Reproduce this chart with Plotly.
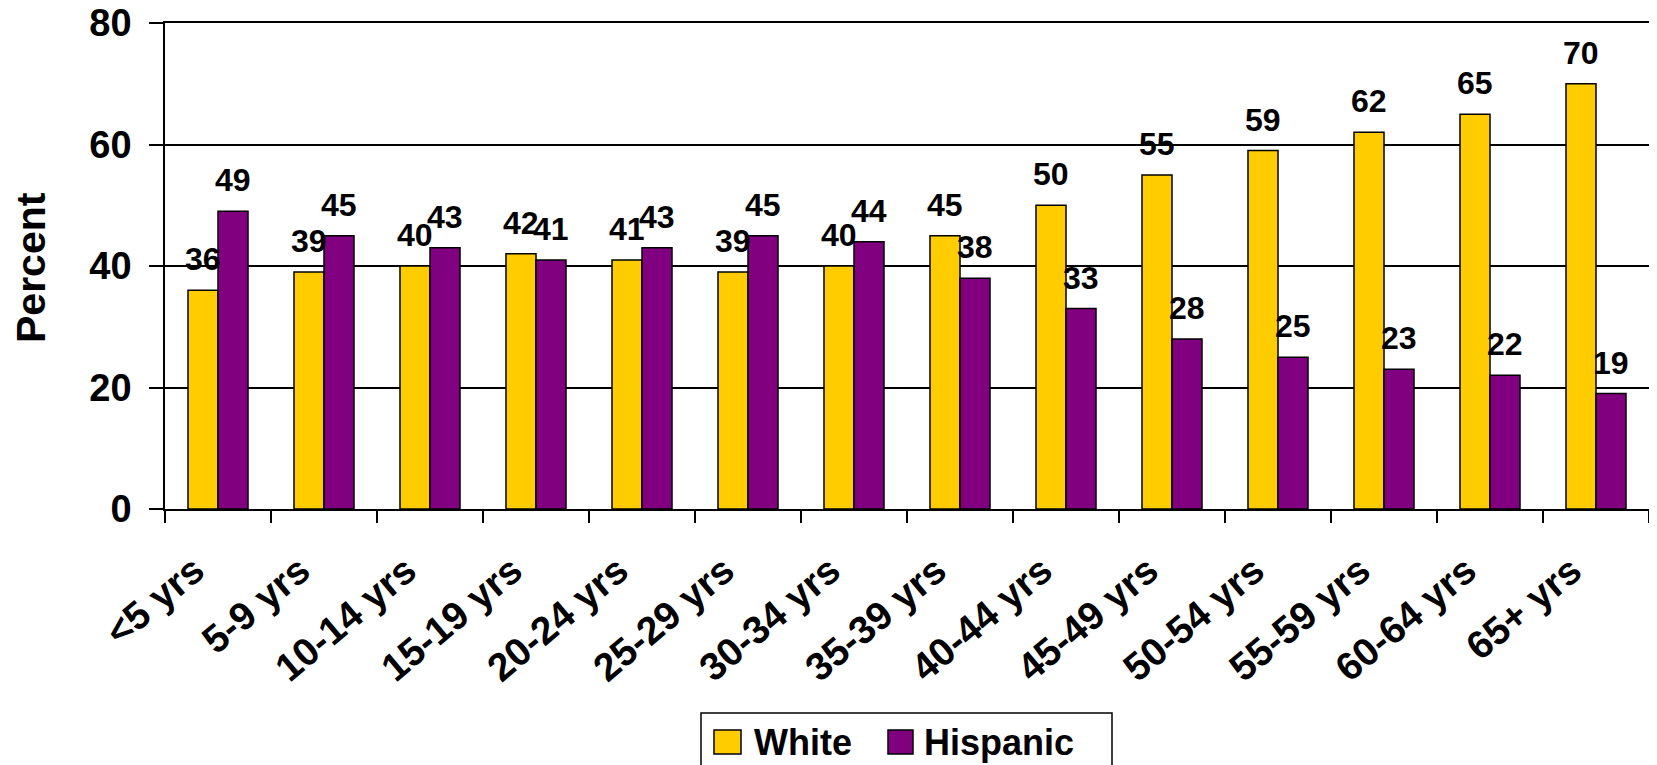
import plotly.graph_objects as go

categories = ["<5 yrs", "5-9 yrs", "10-14 yrs", "15-19 yrs", "20-24 yrs", "25-29 yrs",
              "30-34 yrs", "35-39 yrs", "40-44 yrs", "45-49 yrs", "50-54 yrs",
              "55-59 yrs", "60-64 yrs", "65+ yrs"]
white = [36, 39, 40, 42, 41, 39, 40, 45, 50, 55, 59, 62, 65, 70]
hispanic = [49, 45, 43, 41, 43, 45, 44, 38, 33, 28, 25, 23, 22, 19]
series_names = ["White", "Hispanic"]
y_ticks = [0, 20, 40, 60, 80]

YELLOW = "#FFCC00"
PURPLE = "#800080"
FONT = "Liberation Sans, Arial, sans-serif"

W, H = 1657, 765
OFF = 8  # page body margin
# plot area in page pixels: x 165..1649, y 23..509
L, T = 165 - OFF, 23 - OFF
R = W - (1649 - OFF)
B = H - (509 - OFF)
PW, PH = 1649 - 165, 509 - 23


def px(x):  # page pixel x -> paper
    return (x - 165) / PW


def py(y):  # page pixel y -> paper
    return (509 - y) / PH


fig = go.Figure()
for name, vals, col in [(series_names[0], white, YELLOW), (series_names[1], hispanic, PURPLE)]:
    fig.add_trace(go.Bar(
        x=categories, y=vals, name=name,
        marker=dict(color=col, line=dict(color="black", width=1.5)),
        showlegend=False,
    ))

annotations = []
for vals, shift in [(white, -15), (hispanic, 15)]:
    for c, v in zip(categories, vals):
        annotations.append(dict(
            x=c, y=v, xref="x", yref="y", text=str(v), showarrow=False,
            xshift=shift, yshift=11, yanchor="bottom", xanchor="center",
            font=dict(family=FONT, size=32, color="black", weight="bold"),
        ))

# category labels (rotated)
for c in categories:
    annotations.append(dict(
        x=c, y=0, xref="x", yref="y", text=c, showarrow=False, textangle=-40,
        xanchor="right", yanchor="top", xshift=-3, yshift=-36,
        font=dict(family=FONT, size=39, color="black", weight="bold"),
    ))

# y-axis title
annotations.append(dict(
    x=px(31), y=py(268), xref="paper", yref="paper", text="Percent", textangle=-90,
    showarrow=False, xanchor="center", yanchor="middle",
    font=dict(family=FONT, size=41, color="black", weight="bold"),
))

# manual legend
shapes = [
    dict(type="rect", xref="paper", yref="paper", x0=px(701), x1=px(1112),
         y0=py(800), y1=py(713), line=dict(color="black", width=1.5), fillcolor="white"),
    dict(type="rect", xref="paper", yref="paper", x0=px(714), x1=px(741),
         y0=py(754), y1=py(730), line=dict(color="black", width=1.5), fillcolor=YELLOW),
    dict(type="rect", xref="paper", yref="paper", x0=px(888), x1=px(913),
         y0=py(754), y1=py(730), line=dict(color="black", width=1.5), fillcolor=PURPLE),
]
for label, x0 in [(series_names[0], 752), (series_names[1], 922)]:
    annotations.append(dict(
        x=px(x0), y=py(742), xref="paper", yref="paper", text=label, showarrow=False,
        xanchor="left", yanchor="middle",
        font=dict(family=FONT, size=36, color="black", weight="bold"),
    ))

fig.update_layout(
    width=W, height=H,
    margin=dict(l=L, r=R, t=T, b=B, autoexpand=False),
    paper_bgcolor="white", plot_bgcolor="white",
    barmode="group", bargap=0.434, bargroupgap=0,
    showlegend=False,
    annotations=annotations, shapes=shapes,
    font=dict(family=FONT, color="black"),
)
fig.update_xaxes(
    type="category", range=[-0.5, len(categories) - 0.5],
    tickson="boundaries", showticklabels=False,
    ticks="outside", ticklen=12, tickwidth=1.5, tickcolor="black",
    showline=True, linecolor="black", linewidth=1.5, mirror=True,
    showgrid=False,
)
fig.update_yaxes(
    range=[0, 80], tickvals=y_ticks, ticks="outside", ticklen=14, tickwidth=1.5,
    tickcolor="black", showline=True, linecolor="black", linewidth=1.5, mirror=True,
    showgrid=True, gridcolor="black", gridwidth=1.5, zeroline=False,
    ticklabelstandoff=10, ticklabeloverflow="allow",
    tickfont=dict(family=FONT, size=38, color="black", weight="bold"),
)

fig.write_html("out.html")
